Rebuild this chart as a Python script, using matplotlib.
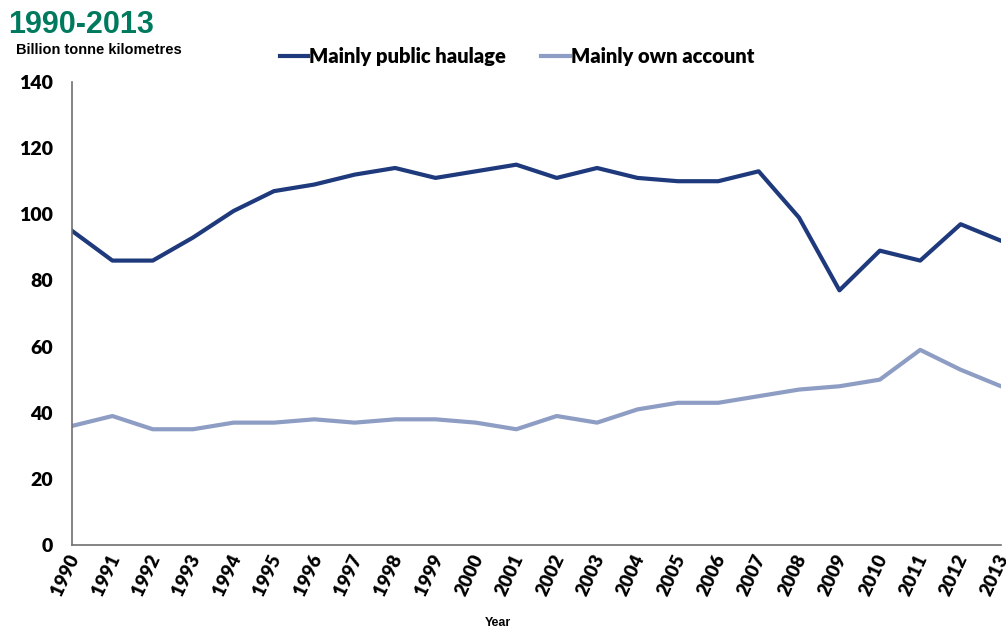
import matplotlib
matplotlib.use("Agg")
import matplotlib.pyplot as plt
from matplotlib.transforms import ScaledTranslation

# ── Data ───────────────────────────────────────────
years = list(range(1990, 2014))
public_haulage = [95, 86, 86, 93, 101, 107, 109, 112, 114, 111, 113, 115,
                  111, 114, 111, 110, 110, 113, 99, 77, 89, 86, 97, 92]
own_account = [36, 39, 35, 35, 37, 37, 38, 37, 38, 38, 37, 35,
               39, 37, 41, 43, 43, 45, 47, 48, 50, 59, 53, 48]
y_ticks = [0, 20, 40, 60, 80, 100, 120, 140]

DARK = "#1f3a7c"
LIGHT = "#8e9dc3"
GREEN = "#007a5e"
TICK_FONT = {"family": "Lato", "weight": "heavy", "size": 14}
XTICK_FONT = {"family": "Lato", "weight": "heavy", "size": 13.5}

fig = plt.figure(figsize=(10.06, 6.3), dpi=100)
ax = fig.add_axes([72 / 1006, 1 - 545 / 630, (1001 - 72) / 1006, (545 - 82) / 630])

ax.plot(years, public_haulage, color=DARK, linewidth=3, label="Mainly public haulage")
ax.plot(years, own_account, color=LIGHT, linewidth=3, label="Mainly own account")

ax.set_xlim(years[0], years[-1])
ax.set_ylim(0, 140)
ax.set_yticks(y_ticks)
ax.set_yticklabels([str(v) for v in y_ticks], fontdict=TICK_FONT)
ax.set_xticks(years)
ax.set_xticklabels([str(y) for y in years], rotation=65, ha="right",
                   rotation_mode="anchor", fontdict=XTICK_FONT)
ax.tick_params(axis="y", length=0, pad=14)
ax.tick_params(axis="x", length=0, pad=5)

# nudge year labels a touch left so 2013 stays inside the canvas
shift = ScaledTranslation(-5 / 100, 0, fig.dpi_scale_trans)
for lbl in ax.get_xticklabels():
    lbl.set_transform(lbl.get_transform() + shift)

for side in ["top", "right"]:
    ax.spines[side].set_visible(False)
for side in ["left", "bottom"]:
    ax.spines[side].set_color("#707070")
    ax.spines[side].set_linewidth(1.2)

ax.set_xlabel("Year", fontsize=9, fontweight="bold", family="Liberation Sans")
ax.xaxis.set_label_coords(0.458, -0.155)

fig.text(8 / 1006, 1 - 25 / 630, "1990-2013", color=GREEN, fontsize=22,
         fontweight="bold", family="Liberation Sans", va="center", ha="left")
fig.text(16 / 1006, 1 - 50 / 630, "Billion tonne kilometres", fontsize=10.5,
         fontweight="bold", family="Liberation Sans", va="center", ha="left")

fig.legend(loc="center", bbox_to_anchor=(517 / 1006, 1 - 57 / 630), ncol=2,
           frameon=False, handlelength=1.4, handletextpad=0.05,
           columnspacing=1.75, prop={"family": "Lato", "weight": "heavy", "size": 14.5})

fig.savefig("out.png", dpi=100)
